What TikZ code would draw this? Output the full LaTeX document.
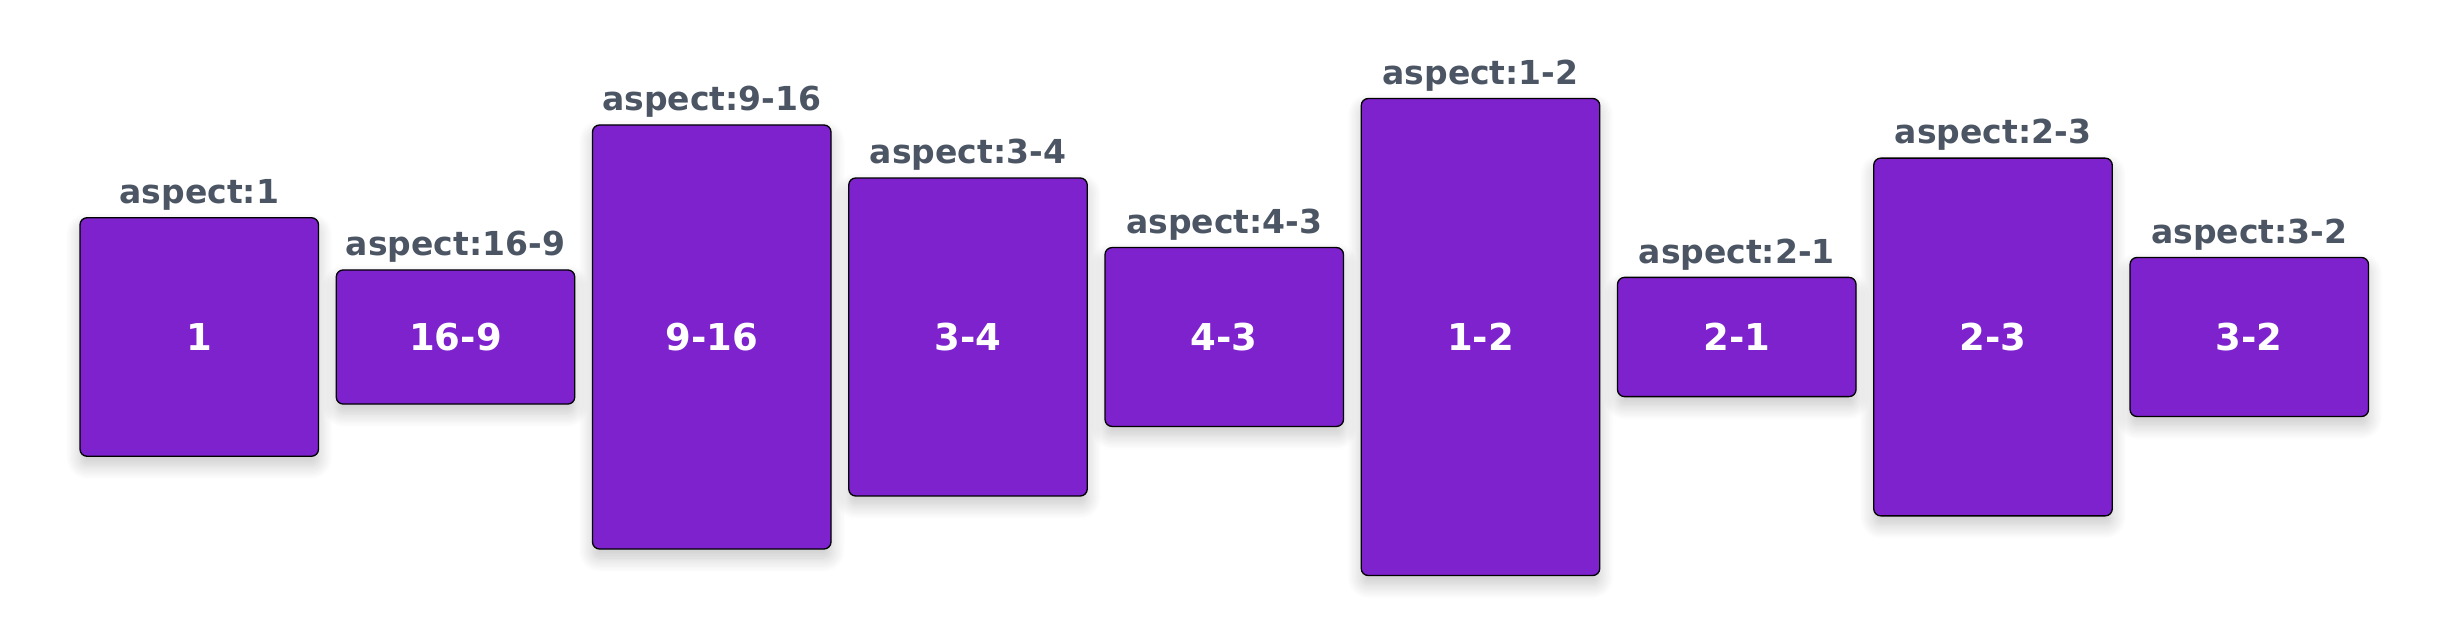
\documentclass[tikz,border=0pt]{standalone}
\usepackage{fontspec}
\setmainfont{DejaVu Sans}
\usetikzlibrary{shadows.blur}
\definecolor{cardfill}{HTML}{7E22CE}
\definecolor{tagtext}{HTML}{4B5563}
\tikzset{
  card/.style={draw=black, line width=1.3pt, fill=cardfill, rounded corners=7pt,
    minimum width=238.5pt, inner sep=0pt, text=white,
    font=\fontsize{37}{44}\selectfont\bfseries,
    blur shadow={shadow xshift=0pt, shadow yshift=-9pt, shadow blur radius=14pt,
      shadow blur steps=12, shadow opacity=22}},
  tag/.style={text=tagtext, inner sep=0pt, anchor=base,
    font=\fontsize{33}{40}\selectfont\bfseries}
}
\begin{document}
\begin{tikzpicture}[x=1pt,y=1pt]
        \useasboundingbox (0,0) rectangle (2454,643);

        \foreach \i/\r/\t in {0/1/1, 1/0.5625/16-9, 2/1.7778/9-16, 3/1.3333/3-4,
                4/0.75/4-3, 5/2/1-2, 6/0.5/2-1, 7/1.5/2-3, 8/0.6667/3-2} {
                \node[card, minimum height={238.5pt*\r}] (c\i) at (199.25+256.25*\i,306) {\t};
                \node[tag] (t\i) at ([yshift=13.5pt]c\i.north) {aspect:\t};
        }

\end{tikzpicture}
\end{document}
